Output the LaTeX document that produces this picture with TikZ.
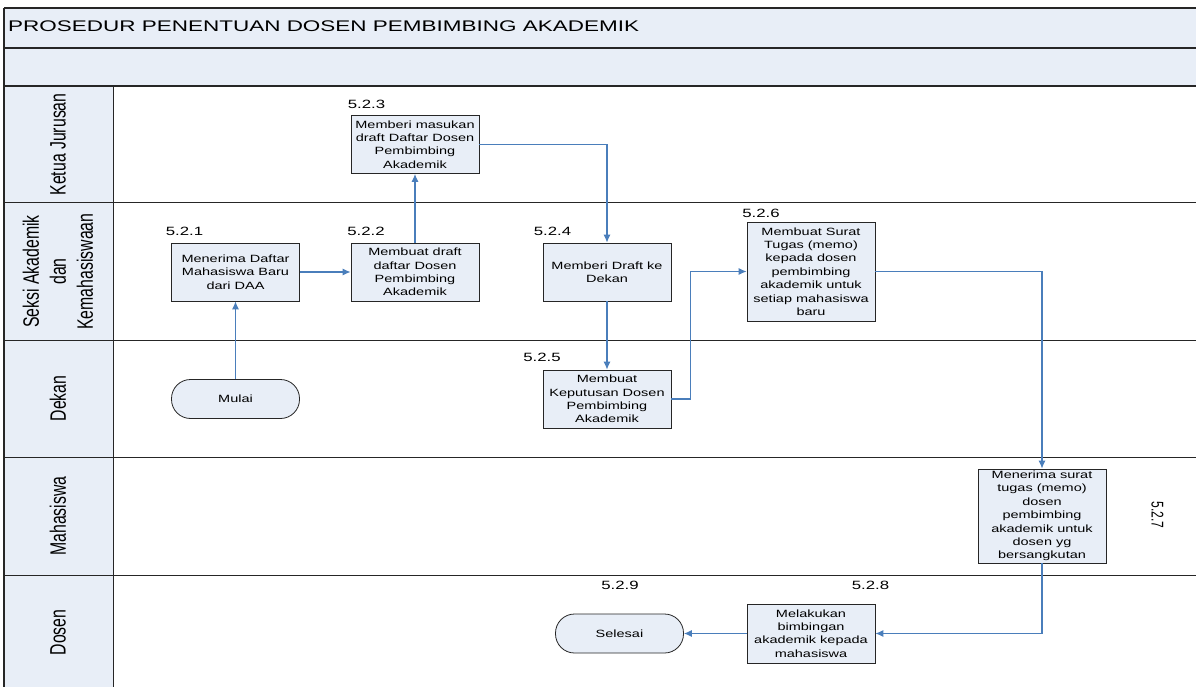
\documentclass[tikz,border=0pt]{standalone}
\usepackage{fontspec}
\setmainfont{Liberation Sans}
\newfontfamily\boxfont[FakeStretch=1.38]{Liberation Sans}
\newfontfamily\titlefont[FakeStretch=1.46]{Liberation Sans}
\newfontfamily\numfont[FakeStretch=1.4]{Liberation Sans}
\newfontfamily\lanefont[FakeStretch=0.71]{Liberation Sans}
\usetikzlibrary{shapes.geometric, arrows.meta}
\definecolor{lanefill}{HTML}{E8EEF7}
\definecolor{flowblue}{HTML}{4A7EBB}

\begin{document}
\begin{tikzpicture}[x=1pt, y=-1pt,
  proc/.style={draw=black!85, fill=lanefill, line width=0.8pt, minimum width=128pt,
    minimum height=58pt, inner sep=1pt, align=center,
    font=\boxfont\fontsize{10.5}{13.4}\selectfont},
  term/.style={proc, minimum height=39pt, rounded corners=19pt},
  flow/.style={draw=flowblue, line width=1.1pt, -{Latex[length=8pt,width=7pt]}},
  num/.style={inner sep=0pt, font=\numfont\fontsize{12}{14}\selectfont},
  lane/.style={rotate=90, align=center, inner sep=0pt,
    font=\lanefont\fontsize{22.3}{27}\selectfont}]

\useasboundingbox (0,0) rectangle (1196,687);
\clip (0,0) rectangle (1196,687);

% header rows and lane column
\fill [lanefill] (4,8) rectangle (1210,86);
\fill [lanefill] (4,86) rectangle (113,700);
\foreach \y in {8,48,86}
  \draw [line width=1.2pt, black!85] (4,\y) -- (1210,\y);
\foreach \y in {203,340,457,575}
  \draw [line width=1pt, black!85] (4,\y) -- (1210,\y);
\draw [line width=1.2pt, black!85] (4,8) -- (4,700);
\draw [line width=1pt, black!85] (113,86) -- (113,700);

\node [anchor=west, inner sep=0pt, font=\titlefont\fontsize{15.4}{18}\selectfont] (title) at (8,26)
  {PROSEDUR PENENTUAN DOSEN PEMBIMBING AKADEMIK};

\node [lane] (ketua) at (58,144.5) {Ketua Jurusan};
\node [lane] (seksi) at (58,271.5) {Seksi Akademik\\dan\\Kemahasiswaan};
\node [lane] (dekan) at (58,398.5) {Dekan};
\node [lane] (mhs) at (58,516) {Mahasiswa};
\node [lane] (dosen) at (58,632.5) {Dosen};

% steps
\node [term] (mulai) at (235.5,399) {Mulai};
\node [proc] (b521) at (235.5,272) {Menerima Daftar\\Mahasiswa Baru\\dari DAA};
\node [proc] (b522) at (415,272) {Membuat draft\\daftar Dosen\\Pembimbing\\Akademik};
\node [proc] (b523) at (415,144.5) {Memberi masukan\\draft Daftar Dosen\\Pembimbing\\Akademik};
\node [proc] (b524) at (607,272) {Memberi Draft ke\\Dekan};
\node [proc] (b525) at (607,399) {Membuat\\Keputusan Dosen\\Pembimbing\\Akademik};
\node [proc, minimum height=99pt] (b526) at (811,271.5) {Membuat Surat\\Tugas (memo)\\kepada dosen\\pembimbing\\akademik untuk\\setiap mahasiswa\\baru};
\node [proc, minimum height=94pt] (b527) at (1042,516) {Menerima surat\\tugas (memo)\\dosen\\pembimbing\\akademik untuk\\dosen yg\\bersangkutan};
\node [proc, minimum height=59pt] (b528) at (811,633.5) {Melakukan\\bimbingan\\akademik kepada\\mahasiswa};
\node [term] (selesai) at (619.5,633.5) {Selesai};

% step numbers
\node [num] (l521) at (184.5,231) {5.2.1};
\node [num] (l522) at (366,231) {5.2.2};
\node [num] (l523) at (366.5,104) {5.2.3};
\node [num] (l524) at (552.5,231) {5.2.4};
\node [num] (l525) at (542,357) {5.2.5};
\node [num] (l526) at (761,213) {5.2.6};
\node [num, rotate=-90, font=\lanefont\fontsize{17}{20}\selectfont] (l527) at (1157.5,515) {5.2.7};
\node [num] (l528) at (870.5,585.5) {5.2.8};
\node [num] (l529) at (620,585.5) {5.2.9};

% flow
\draw [flow] (mulai.north) -- (b521.south);
\draw [flow] (b521.east) -- (b522.west);
\draw [flow] (b522.north) -- (b523.south);
\draw [flow] (b523.east) -| (b524.north);
\draw [flow] (b524.south) -- (b525.north);
\draw [flow] (b525.east) -- ++(19,0) |- (b526.west);
\draw [flow] (b526.east) -| (b527.north);
\draw [flow] (b527.south) |- (b528.east);
\draw [flow] (b528.west) -- (selesai.east);
\end{tikzpicture}
\end{document}
